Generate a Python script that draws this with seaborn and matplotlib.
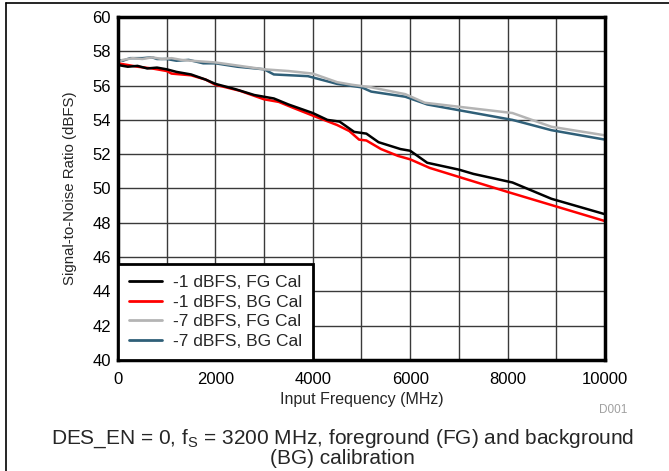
import numpy as np
import pandas as pd
import matplotlib
matplotlib.use("Agg")
import matplotlib.pyplot as plt
from matplotlib.lines import Line2D
import seaborn as sns

sns.set_theme(style="white")
plt.rcParams['font.family'] = ['Liberation Sans', 'DejaVu Sans']

# -1 dBFS, FG Cal
freq_m1_fg = [0, 200, 400, 600, 800, 1000, 1200, 1500, 1800, 2000, 2400, 2800, 3000, 3200,
              3500, 4000, 4300, 4550, 4850, 5100, 5350, 5800, 6000, 6350, 7000, 7300,
              8100, 8900, 10000]
snr_m1_fg = [57.2, 57.1, 57.15, 57.0, 57.05, 56.95, 56.8, 56.65, 56.35, 56.1, 55.8, 55.45,
             55.35, 55.25, 54.9, 54.4, 54.0, 53.9, 53.3, 53.2, 52.7, 52.3, 52.2, 51.5,
             51.1, 50.85, 50.35, 49.4, 48.5]

# -1 dBFS, BG Cal
freq_m1_bg = [0, 200, 400, 700, 1000, 1100, 1500, 1800, 2000, 2500, 3000, 3300, 3600, 4000,
              4500, 4750, 4950, 5100, 5400, 5750, 6000, 6400, 8000, 10000]
snr_m1_bg = [57.3, 57.2, 57.1, 57.0, 56.85, 56.7, 56.6, 56.35, 56.05, 55.7, 55.2, 55.05,
             54.7, 54.25, 53.7, 53.35, 52.85, 52.8, 52.3, 51.9, 51.7, 51.2, 49.8, 48.1]

# -7 dBFS, FG Cal
freq_m7_fg = [0, 100, 300, 500, 700, 900, 1100, 1300, 1500, 2000, 2500, 3000, 3500, 4000,
              4500, 4800, 5200, 5900, 6300, 8100, 8900, 10000]
snr_m7_fg = [57.4, 57.5, 57.6, 57.55, 57.65, 57.55, 57.6, 57.5, 57.45, 57.35, 57.15, 56.95,
             56.85, 56.7, 56.2, 56.05, 55.9, 55.5, 55.0, 54.4, 53.6, 53.1]

# -7 dBFS, BG Cal
freq_m7_bg = [0, 100, 250, 500, 700, 800, 1000, 1200, 1450, 1750, 2000, 2450, 3000, 3200,
              3900, 4500, 5000, 5200, 5900, 6350, 8100, 8900, 10000]
snr_m7_bg = [57.5, 57.45, 57.6, 57.6, 57.65, 57.55, 57.55, 57.45, 57.5, 57.3, 57.3, 57.1,
             56.95, 56.65, 56.55, 56.1, 55.9, 55.65, 55.35, 54.9, 54.0, 53.4, 52.85]

series = [
    ("-1 dBFS, FG Cal", freq_m1_fg, snr_m1_fg),
    ("-1 dBFS, BG Cal", freq_m1_bg, snr_m1_bg),
    ("-7 dBFS, FG Cal", freq_m7_fg, snr_m7_fg),
    ("-7 dBFS, BG Cal", freq_m7_bg, snr_m7_bg),
]
colors = ["#000000", "#ff0000", "#b4b4b4", "#2f5f78"]

df = pd.concat([pd.DataFrame({"freq": f, "snr": s, "curve": name}) for name, f, s in series])

fig = plt.figure(figsize=(6.69, 4.71), dpi=100)
ax = fig.add_axes([0.1764, 0.2357, 0.7279, 0.7282])

# draw later series first so that the -1 dBFS curves stay on top
order = [s[0] for s in series]
for name, col in list(zip(order, colors))[::-1]:
    sns.lineplot(data=df[df["curve"] == name], x="freq", y="snr", color=col,
                 linewidth=1.8, ax=ax, legend=False, estimator=None, sort=False)

ax.set_xlim(0, 10000)
ax.set_ylim(40, 60)
ax.set_xticks(np.arange(0, 10001, 2000))
ax.set_xticks(np.arange(0, 10001, 1000), minor=True)
ax.set_yticks(np.arange(40, 61, 2))
ax.grid(True, which="both", color="#3a3a3a", linewidth=1.0)
ax.tick_params(axis="both", which="both", length=0, labelsize=12, colors="black")
ax.tick_params(axis="x", pad=9)
ax.tick_params(axis="y", pad=5)
for sp in ax.spines.values():
    sp.set_color("black")
    sp.set_linewidth(2.5)

ax.set_xlabel("Input Frequency (MHz)", fontsize=11.5, labelpad=3)
ax.set_ylabel("Signal-to-Noise Ratio (dBFS)", fontsize=10.8, labelpad=11)

handles = [Line2D([0], [0], color=c, lw=2.0) for c in colors]
leg = ax.legend(handles, order, loc="lower left", bbox_to_anchor=(0, 0), fontsize=12.5,
                frameon=True, fancybox=False, borderaxespad=0, handlelength=1.9,
                handletextpad=0.6, labelspacing=0.25, borderpad=0.65)
leg.get_frame().set_edgecolor("black")
leg.get_frame().set_linewidth(2.0)
leg.get_frame().set_alpha(1)

fig.text(0.916, 0.13, "D001", fontsize=8.5, color="#a0a0a0", ha="center", va="center")
fig.text(0.512, 0.05, "DES_EN = 0, f$_\\mathregular{S}$ = 3200 MHz, foreground (FG) and background\n(BG) calibration",
         fontsize=15, ha="center", va="center", linespacing=0.95)

# outer frame (top and left edges)
fig.add_artist(Line2D([0.009, 1.0], [0.994, 0.994], color="black", lw=1.2, transform=fig.transFigure))
fig.add_artist(Line2D([0.009, 0.009], [0.0, 0.994], color="black", lw=1.2, transform=fig.transFigure))

fig.savefig("out.png", dpi=100)
